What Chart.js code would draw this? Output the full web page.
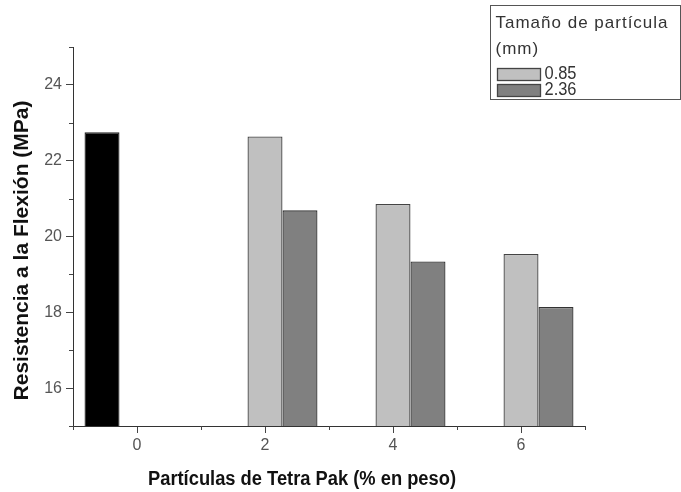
<!DOCTYPE html>
<html>
<head>
<meta charset="utf-8">
<script src="https://cdn.jsdelivr.net/npm/chart.js@4/dist/chart.umd.min.js"></script>
<style>
  html, body { margin: 0; padding: 0; background: #fff; }
  #wrap { width: 681px; height: 492px; position: relative; }
</style>
</head>
<body>
<div id="wrap"><canvas id="chart"></canvas></div>
<script>
// Tetra Pak content (% by weight) for each group
const controlX = [0];
const particleX = [2, 4, 6];

// Flexural strength (MPa)
const controlValues = [22.75];
const values085 = [22.64, 20.86, 19.54];
const values236 = [20.69, 19.34, 18.14];

const seriesLabels = ['0.85', '2.36'];
const legendTitle = ['Tamaño de partícula', '(mm)'];
const xTitle = 'Partículas de Tetra Pak (% en peso)';
const yTitle = 'Resistencia a la Flexión (MPa)';

const pts = (xs, ys) => xs.map((x, i) => ({ x: x, y: ys[i] }));

// short minor ticks on odd values
const minorTicks = {
  id: 'minorTicks',
  afterDraw(chart) {
    const { ctx, chartArea } = chart;
    ctx.save();
    ctx.strokeStyle = '#444';
    ctx.lineWidth = 1;
    const xs = chart.scales.x;
    for (let v = xs.min; v <= xs.max; v++) {
      if (Math.abs(v % 2) !== 1) continue;
      const px = Math.round(xs.getPixelForValue(v)) + 0.5;
      ctx.beginPath();
      ctx.moveTo(px, chartArea.bottom);
      ctx.lineTo(px, chartArea.bottom + 4);
      ctx.stroke();
    }
    const ys = chart.scales.y;
    for (let v = ys.min; v <= ys.max; v++) {
      if (Math.abs(v % 2) !== 1) continue;
      const py = Math.round(ys.getPixelForValue(v)) + 0.5;
      ctx.beginPath();
      ctx.moveTo(chartArea.left, py);
      ctx.lineTo(chartArea.left - 4, py);
      ctx.stroke();
    }
    ctx.restore();
  }
};

// axis titles and the boxed legend
const annotations = {
  id: 'annotations',
  afterDraw(chart) {
    const { ctx, chartArea } = chart;
    ctx.save();
    ctx.fillStyle = '#111';
    ctx.textAlign = 'center';
    ctx.textBaseline = 'alphabetic';
    ctx.font = 'bold 20px "Liberation Sans", Arial, sans-serif';
    ctx.fillText(xTitle, (chartArea.left + chartArea.right) / 2 - 27, chartArea.bottom + 59, 308);

    ctx.font = 'bold 21px "Liberation Sans", Arial, sans-serif';
    ctx.translate(chartArea.left - 45, (chartArea.top + chartArea.bottom) / 2 + 14);
    ctx.rotate(-Math.PI / 2);
    ctx.fillText(yTitle, 0, 0, 300);
    ctx.restore();

    // legend
    ctx.save();
    const bx = 490.5, by = 5.5, bw = 190, bh = 94;
    ctx.strokeStyle = '#555';
    ctx.lineWidth = 1;
    ctx.strokeRect(bx, by, bw, bh);
    ctx.fillStyle = '#333';
    ctx.font = '17px "Liberation Sans", Arial, sans-serif';
    ctx.textAlign = 'left';
    ctx.textBaseline = 'alphabetic';
    ctx.letterSpacing = '1px';
    ctx.fillText(legendTitle[0], bx + 5, by + 22, 180);
    ctx.fillText(legendTitle[1], bx + 5, by + 48);
    ctx.letterSpacing = '0px';
    const sets = chart.data.datasets.slice(1);
    sets.forEach((ds, i) => {
      const sy = by + 63 + i * 16;
      ctx.fillStyle = ds.backgroundColor;
      ctx.fillRect(bx + 7, sy, 43, 12);
      ctx.strokeStyle = '#444';
      ctx.lineWidth = 1.3;
      ctx.strokeRect(bx + 7, sy, 43, 12);
      ctx.fillStyle = '#333';
      ctx.font = '18px "Liberation Sans", Arial, sans-serif';
      ctx.fillText(ds.label, bx + 54, sy + 10, 32);
    });
    ctx.restore();
  }
};

const tickColor = (c) => (Math.abs(c.tick.value % 2) === 1 ? 'rgba(0,0,0,0)' : '#444');

new Chart(document.getElementById('chart'), {
  type: 'bar',
  data: {
    datasets: [
      {
        label: 'Control',
        data: pts(controlX, controlValues),
        backgroundColor: '#000000',
        borderColor: '#222',
        borderWidth: 1.3
      },
      {
        label: seriesLabels[0],
        data: pts(particleX, values085),
        backgroundColor: '#c0c0c0',
        borderColor: '#444',
        borderWidth: 1.3
      },
      {
        label: seriesLabels[1],
        data: pts(particleX, values236),
        backgroundColor: '#808080',
        borderColor: '#333',
        borderWidth: 1.3
      }
    ]
  },
  options: {
    responsive: true,
    maintainAspectRatio: false,
    animation: false,
    categoryPercentage: 1.64,
    barPercentage: 1,
    layout: { padding: { top: 47, right: 96, left: 0, bottom: 0 } },
    plugins: { legend: { display: false }, tooltip: { enabled: false } },
    scales: {
      x: {
        type: 'linear',
        min: -1,
        max: 7,
        offset: false,
        z: 1,
        afterFit: (s) => { s.height = 66; },
        grid: { offset: false, drawOnChartArea: false, drawTicks: true, tickLength: 7, tickColor: tickColor },
        border: { display: true, color: '#333', width: 1 },
        ticks: {
          stepSize: 1,
          autoSkip: false,
          maxRotation: 0,
          padding: 3,
          color: '#555',
          font: { family: '"Liberation Sans", Arial, sans-serif', size: 16 },
          callback: (v) => (Math.abs(v % 2) === 1 ? '' : v)
        }
      },
      y: {
        min: 15,
        max: 25,
        z: 1,
        afterFit: (s) => { s.width = 73; },
        grid: { drawOnChartArea: false, drawTicks: true, tickLength: 7, tickColor: tickColor },
        border: { display: true, color: '#333', width: 1 },
        ticks: {
          stepSize: 1,
          autoSkip: false,
          padding: 4,
          color: '#555',
          font: { family: '"Liberation Sans", Arial, sans-serif', size: 16 },
          callback: (v) => (Math.abs(v % 2) === 1 ? '' : v)
        }
      }
    }
  },
  plugins: [minorTicks, annotations]
});
</script>
</body>
</html>
